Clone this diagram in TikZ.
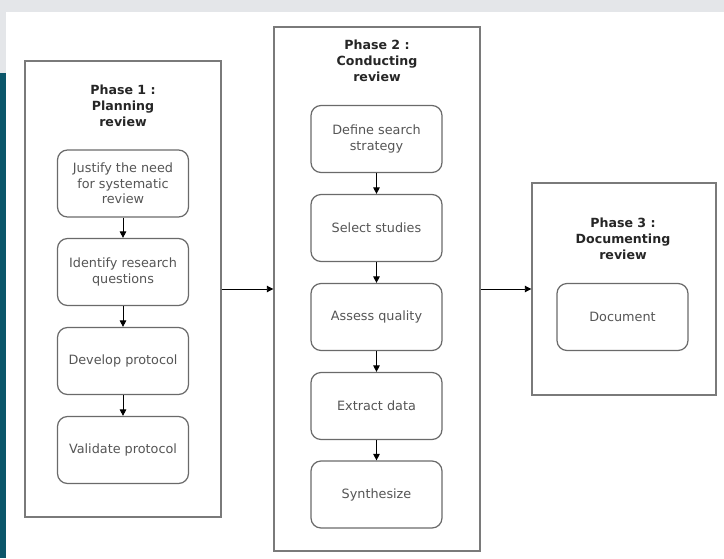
\documentclass[tikz,border=0pt]{standalone}
\usepackage{fontspec}
\setmainfont{DejaVu Sans}
\usetikzlibrary{arrows.meta}
\definecolor{bandgray}{HTML}{E4E6E9}
\definecolor{stripteal}{HTML}{0B566A}
\definecolor{boxline}{HTML}{6A6A6A}
\definecolor{outline}{HTML}{7A7A7A}
\definecolor{boxtext}{HTML}{555555}
\definecolor{titletext}{HTML}{262626}
\tikzset{
  phasebox/.style={draw=outline, line width=1.4pt, fill=white, inner sep=0pt},
  phasetitle/.style={font=\fontsize{12.6}{16}\selectfont\bfseries, text=titletext, align=center, inner sep=0pt},
  stepbox/.style={draw=boxline, line width=1.2pt, rounded corners=10pt, fill=white,
    minimum width=131pt, minimum height=67pt, inner sep=2pt, align=center,
    text=boxtext, font=\fontsize{12.8}{15.5}\selectfont},
  flow/.style={draw=black, line width=0.9pt, -{Triangle[length=6.5pt,width=6.5pt]}}
}
\begin{document}
\begin{tikzpicture}[x=1pt,y=-1pt]
\useasboundingbox (0,0) rectangle (724,558);
\fill[white] (0,0) rectangle (724,558);
\fill[bandgray] (0,0) rectangle (724,12);
\fill[bandgray] (0,12) rectangle (6,73);
\fill[stripteal] (0,73) rectangle (6,558);

% phase containers
\node[phasebox, minimum width=196pt, minimum height=456pt] (p1) at (123,289) {};
\node[phasebox, minimum width=206pt, minimum height=524pt] (p2) at (377,289) {};
\node[phasebox, minimum width=184pt, minimum height=212pt] (p3) at (624,289) {};

% titles
\node[phasetitle] (t1) at (123,106) {Phase 1 :\\Planning\\review};
\node[phasetitle] (t2) at (377,61) {Phase 2 :\\Conducting\\review};
\node[phasetitle] (t3) at (623,239) {Phase 3 :\\Documenting\\review};

% phase 1 steps
\node[stepbox] (a1) at (123,183.5) {Justify the need\\for systematic\\review};
\node[stepbox] (a2) at (123,272) {Identify research\\questions};
\node[stepbox] (a3) at (123,361) {Develop protocol};
\node[stepbox] (a4) at (123,450) {Validate protocol};

% phase 2 steps
\node[stepbox] (b1) at (376.5,139) {Define search\\strategy};
\node[stepbox] (b2) at (376.5,228) {Select studies};
\node[stepbox] (b3) at (376.5,317) {Assess quality};
\node[stepbox] (b4) at (376.5,406) {Extract data};
\node[stepbox] (b5) at (376.5,494.5) {Synthesize};

% phase 3 step
\node[stepbox] (c1) at (622.5,317) {Document};

% arrows
\draw[flow] (a1) -- (a2);
\draw[flow] (a2) -- (a3);
\draw[flow] (a3) -- (a4);
\draw[flow] (b1) -- (b2);
\draw[flow] (b2) -- (b3);
\draw[flow] (b3) -- (b4);
\draw[flow] (b4) -- (b5);
\draw[flow] (p1.east) -- (p2.west);
\draw[flow] (p2.east) -- (p3.west);
\end{tikzpicture}
\end{document}
